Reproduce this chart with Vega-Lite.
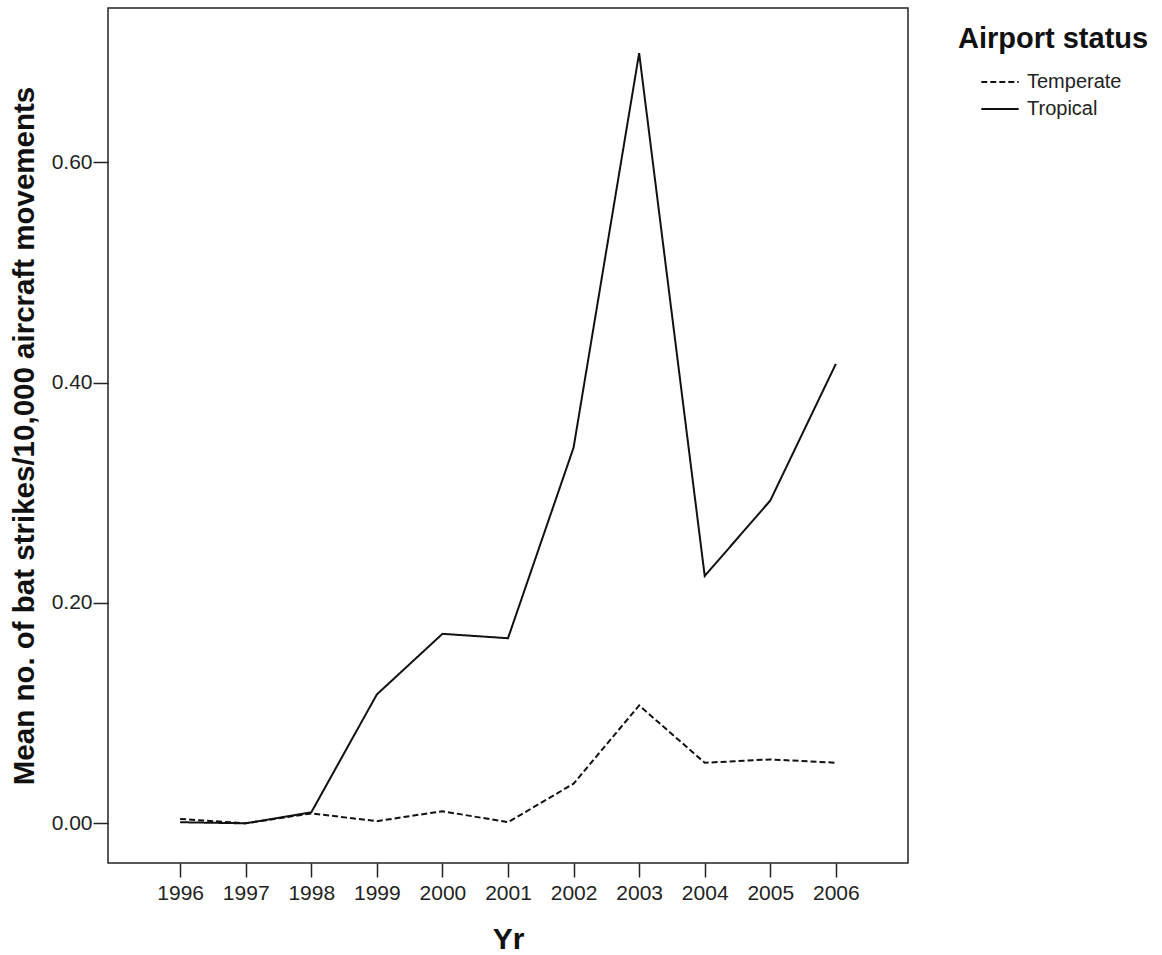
{
  "$schema": "https://vega.github.io/schema/vega-lite/v6.json",
  "autosize": "none",
  "padding": {"left": 108, "top": 8, "right": 254, "bottom": 92},
  "width": 800,
  "height": 855,
  "background": "white",
  "config": {
    "font": "Liberation Sans",
    "view": {"stroke": "#222", "strokeWidth": 1.5},
    "axis": {"grid": false, "domain": false, "tickColor": "#222", "tickWidth": 1.5, "labelColor": "#222", "titleColor": "#111"}
  },
  "data": {
    "values": [
      {"Yr": 1996, "status": "Temperate", "v": 0.004},
      {"Yr": 1997, "status": "Temperate", "v": 0.0},
      {"Yr": 1998, "status": "Temperate", "v": 0.009},
      {"Yr": 1999, "status": "Temperate", "v": 0.002},
      {"Yr": 2000, "status": "Temperate", "v": 0.011},
      {"Yr": 2001, "status": "Temperate", "v": 0.001},
      {"Yr": 2002, "status": "Temperate", "v": 0.036},
      {"Yr": 2003, "status": "Temperate", "v": 0.107},
      {"Yr": 2004, "status": "Temperate", "v": 0.055},
      {"Yr": 2005, "status": "Temperate", "v": 0.058},
      {"Yr": 2006, "status": "Temperate", "v": 0.055},
      {"Yr": 1996, "status": "Tropical", "v": 0.001},
      {"Yr": 1997, "status": "Tropical", "v": 0.0},
      {"Yr": 1998, "status": "Tropical", "v": 0.01},
      {"Yr": 1999, "status": "Tropical", "v": 0.117},
      {"Yr": 2000, "status": "Tropical", "v": 0.172},
      {"Yr": 2001, "status": "Tropical", "v": 0.168},
      {"Yr": 2002, "status": "Tropical", "v": 0.341},
      {"Yr": 2003, "status": "Tropical", "v": 0.699},
      {"Yr": 2004, "status": "Tropical", "v": 0.2245},
      {"Yr": 2005, "status": "Tropical", "v": 0.293},
      {"Yr": 2006, "status": "Tropical", "v": 0.417}
    ]
  },
  "mark": {"type": "line", "color": "#111", "strokeWidth": 2},
  "encoding": {
    "x": {
      "field": "Yr", "type": "quantitative",
      "scale": {"domain": [1994.9, 2007.1], "nice": false, "zero": false},
      "axis": {"values": [1996,1997,1998,1999,2000,2001,2002,2003,2004,2005,2006], "format": "d", "tickSize": 14, "labelFontSize": 21, "labelPadding": 5, "title": "Yr", "titleFontSize": 30, "titleFontWeight": "bold", "titlePadding": 21}
    },
    "y": {
      "field": "v", "type": "quantitative",
      "scale": {"domain": [-0.036, 0.74], "nice": false, "zero": false},
      "axis": {"values": [0, 0.2, 0.4, 0.6], "format": ".2f", "tickSize": 15, "labelFontSize": 21, "labelPadding": 1, "title": "Mean no. of bat strikes/10,000 aircraft movements", "titleFontSize": 29.5, "titleFontWeight": "bold", "titlePadding": 12}
    },
    "strokeDash": {
      "field": "status", "type": "nominal",
      "scale": {"domain": ["Temperate", "Tropical"], "range": [[6, 3], [1, 0]]},
      "legend": {"orient": "none", "legendX": 850, "legendY": 17, "title": "Airport status", "titleLimit": 400, "titleFontSize": 29, "titleFontWeight": "bold", "titleColor": "#111", "titlePadding": 16, "labelFontSize": 20, "labelColor": "#222", "symbolType": "stroke", "symbolSize": 1400, "symbolStrokeColor": "#111", "symbolStrokeWidth": 2, "symbolOffset": 22, "clipHeight": 24, "rowPadding": 3, "labelOffset": 7}
    }
  }
}
